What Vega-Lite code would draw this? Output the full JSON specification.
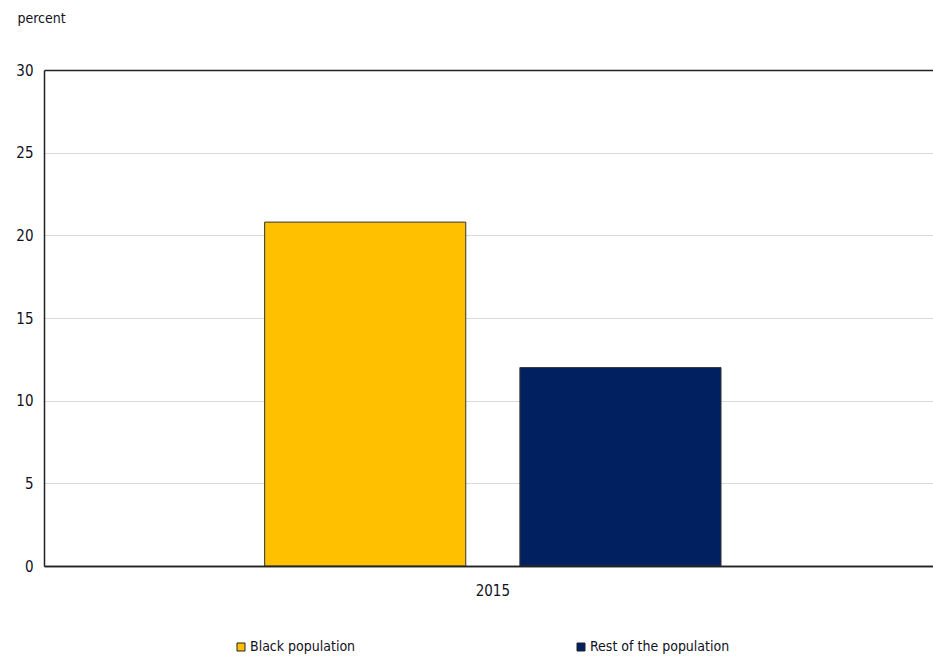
{
  "$schema": "https://vega.github.io/schema/vega-lite/v6.json",
  "autosize": {"type": "none"},
  "padding": {"left": 44, "top": 70, "right": 0, "bottom": 90},
  "width": 889,
  "height": 496,
  "background": "white",
  "config": {
    "view": {"stroke": null},
    "font": "DejaVu Sans Condensed",
    "axis": {"labelFont": "DejaVu Sans Condensed", "labelFontSize": 15, "labelColor": "#111122", "titleFont": "DejaVu Sans Condensed"},
    "legend": {"labelFont": "DejaVu Sans Condensed"}
  },
  "data": {
    "values": [
      {"year": "2015", "series": "Black population", "value": 20.8},
      {"year": "2015", "series": "Rest of the population", "value": 12.0}
    ]
  },
  "mark": {"type": "bar", "stroke": "#333333", "strokeWidth": 1},
  "encoding": {
    "x": {
      "field": "year",
      "type": "nominal",
      "scale": {"paddingInner": 0, "paddingOuter": 0.474, "align": 0.51},
      "axis": {
        "title": null,
        "labelAngle": 0,
        "ticks": false,
        "domainColor": "#222222",
        "domainWidth": 1.5,
        "labelPadding": 17,
        "labelFontSize": 15,
        "zindex": 1
      }
    },
    "xOffset": {
      "field": "series",
      "type": "nominal",
      "scale": {"paddingInner": 0.212, "paddingOuter": 0}
    },
    "y": {
      "field": "value",
      "type": "quantitative",
      "scale": {"domain": [0, 30]},
      "axis": {
        "values": [0, 5, 10, 15, 20, 25, 30],
        "title": "percent",
        "titleAngle": 0,
        "titleAlign": "left",
        "titleBaseline": "middle",
        "titleX": -27,
        "titleY": -52,
        "titleFontSize": 14,
        "titleFontWeight": "normal",
        "titleColor": "#111122",
        "ticks": false,
        "labelPadding": 11,
        "domainColor": "#222222",
        "domainWidth": 1.5,
        "grid": true,
        "gridColor": {"condition": {"test": "datum.value === 30 || datum.value === 0", "value": "#222222"}, "value": "#d9d9d9"},
        "gridWidth": {"condition": {"test": "datum.value === 30 || datum.value === 0", "value": 1.5}, "value": 1}
      }
    },
    "color": {
      "field": "series",
      "type": "nominal",
      "scale": {"domain": ["Black population", "Rest of the population"], "range": ["#FFC000", "#002060"]},
      "legend": {
        "title": null,
        "orient": "none",
        "legendX": 190,
        "legendY": 570,
        "direction": "horizontal",
        "columns": 2,
        "columnPadding": 218,
        "symbolType": "square",
        "symbolSize": 64,
        "symbolStrokeColor": "#222222",
        "symbolStrokeWidth": 1,
        "labelFontSize": 14,
        "labelColor": "#111122",
        "labelOffset": 2
      }
    }
  }
}
